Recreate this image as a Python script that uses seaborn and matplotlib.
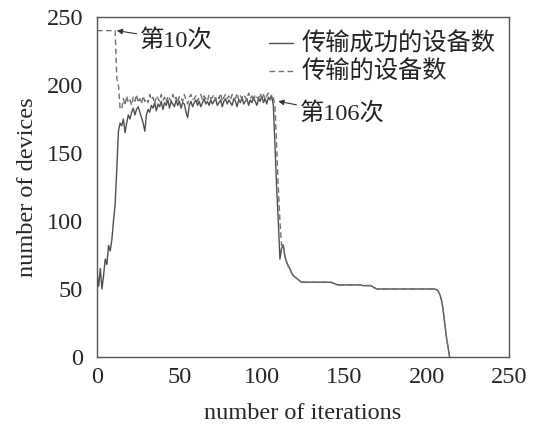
import matplotlib
matplotlib.use("Agg")
import matplotlib.pyplot as plt
import seaborn as sns
import pandas as pd

# ---------------- data ----------------
iterations = list(range(215))

success_devices = [
    62, 52, 65, 50, 60, 72, 68, 82, 78, 86,
    100, 112, 138, 166, 172, 170, 175, 165, 172, 178,
    175, 180, 183, 178, 182, 184, 180, 176, 172, 166,
    178, 182, 180, 185, 183, 187, 181, 186, 184, 188,
    182, 187, 185, 189, 183, 188, 186, 184, 189, 185,
    188, 183, 187, 186, 180, 176, 185, 188, 184, 187,
    189, 185, 188, 184, 187, 190, 186, 188, 185, 189,
    186, 188, 190, 185, 187, 189, 184, 188, 190, 186,
    189, 187, 185, 190, 188, 184, 189, 187, 191, 186,
    188, 190, 185, 189, 187, 191, 188, 185, 190, 188,
    192, 187, 190, 186, 191, 189, 192, 185, 155, 125,
    100, 72, 80, 82, 74, 70, 67, 65, 62, 60,
    59, 58, 57, 56, 55, 55, 55, 55, 55, 55,
    55, 55, 55, 55, 55, 55, 55, 55, 55, 55,
    55, 55, 55, 54.5, 54, 53.5, 53, 53, 53, 53,
    53, 53, 53, 53, 53, 53, 53, 53, 53, 53,
    53, 52.5, 52.5, 52.5, 52.5, 52.5, 52.5, 52, 51, 50.5,
    50, 50, 50, 50, 50, 50, 50, 50, 50, 50,
    50, 50, 50, 50, 50, 50, 50, 50, 50, 50,
    50, 50, 50, 50, 50, 50, 50, 50, 50, 50,
    50, 50, 50, 50, 50, 50, 49.5, 48.5, 46, 42,
    35, 25, 15, 7, 0,
]

transmit_devices = [
    240, 240, 240, 240, 240, 240, 240, 240, 240, 240,
    240, 240, 205, 200, 183, 182, 190, 185, 192, 187,
    189, 185, 191, 188, 193, 187, 190, 186, 192, 188,
    190, 187, 193, 189, 191, 186, 192, 190, 188, 193,
    189, 191, 187, 192, 190, 188, 193, 189, 191, 187,
    192, 190, 188, 193, 189, 186, 191, 193, 189, 190,
    192, 188, 191, 193, 189, 192, 190, 188, 193, 190,
    191, 193, 189, 192, 190, 194, 188, 191, 193, 190,
    192, 189, 193, 191, 190, 194, 189, 192, 190, 193,
    191, 189, 194, 190, 192, 188, 193, 191, 190, 194,
    190, 193, 189, 192, 194, 190, 193, 191, 185, 155,
    125, 100, 82, 84, 74, 70, 67, 65, 62, 60,
    59, 58, 57, 56, 55, 55, 55, 55, 55, 55,
    55, 55, 55, 55, 55, 55, 55, 55, 55, 55,
    55, 55, 55, 54.5, 54, 53.5, 53, 53, 53, 53,
    53, 53, 53, 53, 53, 53, 53, 53, 53, 53,
    53, 52.5, 52.5, 52.5, 52.5, 52.5, 52.5, 52, 51, 50.5,
    50, 50, 50, 50, 50, 50, 50, 50, 50, 50,
    50, 50, 50, 50, 50, 50, 50, 50, 50, 50,
    50, 50, 50, 50, 50, 50, 50, 50, 50, 50,
    50, 50, 50, 50, 50, 50, 49.5, 48.5, 46, 42,
    35, 25, 15, 7, 0,
]

series_names = ["传输成功的设备数", "传输的设备数"]
x_ticks = [0, 50, 100, 150, 200, 250]
y_ticks = [0, 50, 100, 150, 200, 250]

# ---------------- styling ----------------
sns.set_style("white")
plt.rcParams["font.family"] = ["Liberation Serif", "Noto Sans CJK SC", "DejaVu Sans"]
plt.rcParams["axes.unicode_minus"] = False

FS = 17.5

df = pd.DataFrame({
    "iteration": iterations * 2,
    "devices": success_devices + transmit_devices,
    "series": [series_names[0]] * len(iterations) + [series_names[1]] * len(iterations),
})

fig = plt.figure(figsize=(5.34, 4.24), dpi=100)
ax = fig.add_axes([97 / 534, (424 - 357) / 424, (509 - 97) / 534, (357 - 17) / 424])

sns.lineplot(
    data=df, x="iteration", y="devices", hue="series", style="series",
    palette={series_names[0]: "#505050", series_names[1]: "#707070"},
    dashes={series_names[0]: "", series_names[1]: (4, 2.5)},
    linewidth=1.0, ax=ax, legend=True,
)

ax.set_xlim(0, 250)
ax.set_ylim(0, 250)
ax.set_xticks(x_ticks)
ax.set_yticks(y_ticks)
ax.tick_params(axis="both", direction="in", length=4, width=0.8, color="#444444",
               labelsize=FS, top=False, right=False)
ax.tick_params(axis="y", pad=10)
ax.tick_params(axis="x", pad=7)
for s in ax.spines.values():
    s.set_visible(True)
    s.set_color("#555555")
    s.set_linewidth(1.0)

ax.set_xlabel("number of iterations", fontsize=FS, labelpad=11)
ax.set_ylabel("number of devices", fontsize=FS, labelpad=6)

leg = ax.legend(loc="upper right", frameon=False, fontsize=FS,
                handlelength=1.0, handletextpad=0.35, borderaxespad=0.25,
                borderpad=0.2, labelspacing=0.2, bbox_to_anchor=(0.995, 0.985))
for t in leg.get_texts():
    t.set_color("#222222")

arrow_kw = dict(arrowstyle="-|>", color="#333333", lw=0.8, mutation_scale=8,
                shrinkA=0, shrinkB=0)
ax.annotate("第10次", xy=(12, 240), xytext=(26, 233), fontsize=FS,
            va="center", ha="left", color="#222222", arrowprops=arrow_kw)
ax.annotate("第106次", xy=(110, 188), xytext=(123, 179), fontsize=FS,
            va="center", ha="left", color="#222222", arrowprops=arrow_kw)

fig.savefig("out.png", dpi=100)
